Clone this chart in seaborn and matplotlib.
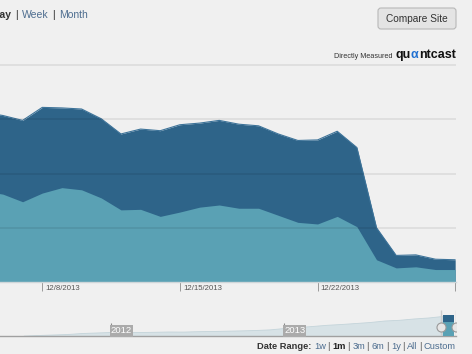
import numpy as np
import pandas as pd
import matplotlib
matplotlib.use('Agg')
import matplotlib.pyplot as plt
import matplotlib.transforms as mtransforms
from matplotlib.patches import FancyBboxPatch
import seaborn as sns

W, H = 472, 354

# daily audience, main chart (grid units)
dates = pd.date_range('2013-12-05', '2013-12-29', freq='D')
total = [3.13, 3.07, 2.98, 3.22, 3.21, 3.19, 3.01, 2.73, 2.82, 2.79, 2.90, 2.93, 2.98,
         2.91, 2.88, 2.73, 2.61, 2.62, 2.78, 2.48, 1.00, 0.49, 0.50, 0.42, 0.41]
lower = [1.68, 1.62, 1.48, 1.64, 1.74, 1.70, 1.55, 1.33, 1.34, 1.21, 1.29, 1.38, 1.42,
         1.36, 1.36, 1.23, 1.10, 1.07, 1.21, 1.02, 0.41, 0.26, 0.28, 0.23, 0.23]
tick_dates = ['2013-12-08', '2013-12-15', '2013-12-22', '2013-12-29']
tick_labels = ['12/8/2013', '12/15/2013', '12/22/2013', '']

# navigator overview (monthly)
nav_dates = pd.date_range('2011-07-01', '2013-12-01', freq='MS')
nav_values = [0.4, 1.0, 1.5, 2.0, 3.0, 3.5, 4.0, 3.8, 4.0, 4.2, 4.5, 4.4, 4.8, 5.0, 5.3,
              5.6, 6.0, 6.6, 8.0, 9.0, 10.0, 11.2, 12.0, 13.0, 14.0, 15.5, 16.2,
              17.5, 18.5, 20.0]
year_marks = ['2012-01-01', '2013-01-01']
year_labels = ['2012', '2013']
period_labels = ['Day', 'Week', 'Month']
range_labels = ['1w', '1m', '3m', '6m', '1y', 'All', 'Custom']

BG = '#f0f0f0'
DARK = '#2e6489'
LIGHT = '#5aa1b4'
LINK = '#4d6d8f'

sns.set_theme(style='white')
plt.rcParams['font.family'] = ['Liberation Sans', 'DejaVu Sans']

fig = plt.figure(figsize=(W / 100, H / 100), dpi=100, facecolor=BG)


def fx(x):
    return x / W


def fy(y):
    return 1 - y / H


# ---- main chart
ax = fig.add_axes([0, fy(282), fx(456), (282 - 64) / H])
ax.set_facecolor(BG)
ax.fill_between(dates, 0, total, color=DARK, lw=0, zorder=1)
ax.fill_between(dates, 0, lower, color=LIGHT, lw=0, zorder=2)
sns.lineplot(x=dates, y=total, ax=ax, color='#3d7399', lw=0.8, zorder=3)
for g in [1, 2, 3, 4]:
    ax.axhline(g, color='black', alpha=0.09, lw=1.1, zorder=4)
ax.set_xlim(pd.Timestamp('2013-12-08') - pd.Timedelta(days=2.15),
            pd.Timestamp('2013-12-29') + pd.Timedelta(hours=1))
ax.set_ylim(0, 4.02)
ax.set_yticks([])
ax.set_xlabel('')
ax.set_ylabel('')
ax.set_xticks(pd.to_datetime(tick_dates))
ax.set_xticklabels(tick_labels)
ax.tick_params(axis='x', direction='out', length=6.5, width=0.7, color='#9a9a9a',
               labelsize=5.6, labelcolor='#555555', pad=-4.3, bottom=True)
shift = mtransforms.ScaledTranslation(0.03, 0, fig.dpi_scale_trans)
for lab in ax.get_xticklabels():
    lab.set_ha('left')
    lab.set_transform(lab.get_transform() + shift)
for s in ['top', 'left', 'right']:
    ax.spines[s].set_visible(False)
ax.spines['bottom'].set_color('#cfd6d9')
ax.spines['bottom'].set_linewidth(1)

# ---- navigator
ax2 = fig.add_axes([0, fy(336), fx(456), 31 / H])
ax2.set_facecolor(BG)
ax2.fill_between(nav_dates, 0, nav_values, color='#d7e2e6', lw=0.6,
                 edgecolor='#c4d4da', zorder=1)
sel0 = pd.Timestamp('2013-12-03')
sel1 = pd.Timestamp('2013-12-25')
ax2.fill_between([sel0, sel1], 0, 21, color=DARK, lw=0, zorder=2)
ax2.fill_between([sel0, sel1], 0, 14, color=LIGHT, lw=0, zorder=3)
h0 = pd.Timestamp('2013-11-29')
h1 = pd.Timestamp('2013-12-29')
ax2.vlines([h0, h1], 0, 26, color='#cccccc', lw=1, zorder=4)
ax2.plot([h0, h1], [9, 9], 'o', ms=6.5, mfc='#e6e6e6', mec='#9a9a9a', mew=0.8, zorder=5)
for d, lab in zip(year_marks, year_labels):
    d = pd.Timestamp(d)
    ax2.vlines(d, 0, 13, color='#8a8a8a', lw=0.8, zorder=6)
    ax2.text(d, 0.6, lab, color='white', fontsize=6.8, ha='left', va='bottom',
             zorder=6, bbox=dict(boxstyle='square,pad=0.12', fc='#ababab', ec='none'))
ax2.set_xlim(pd.Timestamp('2011-05-12'), h1 + pd.Timedelta(days=1))
ax2.set_ylim(0, 31)
ax2.set_xticks([])
ax2.set_yticks([])
for s in ['top', 'left', 'right']:
    ax2.spines[s].set_visible(False)
ax2.spines['bottom'].set_color('#a0a0a0')
ax2.spines['bottom'].set_linewidth(1)

# ---- texts
renderer = fig.canvas.get_renderer()


def text_width(s, **kw):
    t = fig.text(0, 0, s, **kw)
    w = t.get_window_extent(renderer).width
    t.remove()
    return w


def put_seq(x, y, parts):
    # parts: (text, style, gap after in px)
    for s, kw, gap in parts:
        t = fig.text(fx(x), fy(y), s, va='baseline', ha='left', **kw)
        x += t.get_window_extent(renderer).width + gap
    return x


def seq_width(parts):
    return sum(text_width(s, **kw) + g for s, kw, g in parts[:-1]) + \
        text_width(parts[-1][0], **parts[-1][1])


def with_bars(items, bar_kw, before, after):
    out = []
    for i, (s, kw) in enumerate(items):
        if i < len(items) - 1:
            out.append((s, kw, before))
            out.append(('|', bar_kw, after))
        else:
            out.append((s, kw, 0))
    return out


fs = 7.5
period_items = [(period_labels[0], dict(fontsize=fs, color='#333333', fontweight='bold'))]
period_items += [(p, dict(fontsize=fs, color=LINK)) for p in period_labels[1:]]
put_seq(-7.5, 18, with_bars(period_items, dict(fontsize=fs, color='#333333'), 3.5, 4.5))

# compare site button
btn = FancyBboxPatch((378 / 100, (H - 29) / 100), 78 / 100, 21 / 100,
                     boxstyle='round,pad=0,rounding_size=0.03',
                     transform=fig.dpi_scale_trans, fc='#e4e4e4', ec='#b8b8b8', lw=0.8)
fig.patches.append(btn)
fig.text(fx(417), fy(19), 'Compare Site', fontsize=7.3, color='#333333',
         ha='center', va='center')

# directly measured + logo
fig.text(fx(393), fy(57.5), 'Directly Measured', fontsize=5.2, color='#333333',
         ha='right', va='baseline')
logo_kw = dict(fontsize=9, color='#111111', fontweight='bold')
logo_parts = [('qu', logo_kw, 0), ('\u03b1', dict(logo_kw, color='#1f6fd1'), 0.5),
              ('ntcast', logo_kw, 0)]
put_seq(456 - seq_width(logo_parts), 58, logo_parts)

# date range selector
fs2 = 6.7
range_items = []
for r in range_labels:
    if r == '1m':
        range_items.append((r, dict(fontsize=fs2, color='#222222', fontweight='bold')))
    else:
        range_items.append((r, dict(fontsize=fs2, color=LINK)))
dr_parts = [('Date Range:', dict(fontsize=fs2, color='#333333', fontweight='bold'), 2.5)]
dr_parts += with_bars(range_items, dict(fontsize=fs2, color='#555555'), 1.5, 2.5)
put_seq(456 - seq_width(dr_parts), 349, dr_parts)

fig.savefig('out.png', dpi=100, facecolor=BG)
